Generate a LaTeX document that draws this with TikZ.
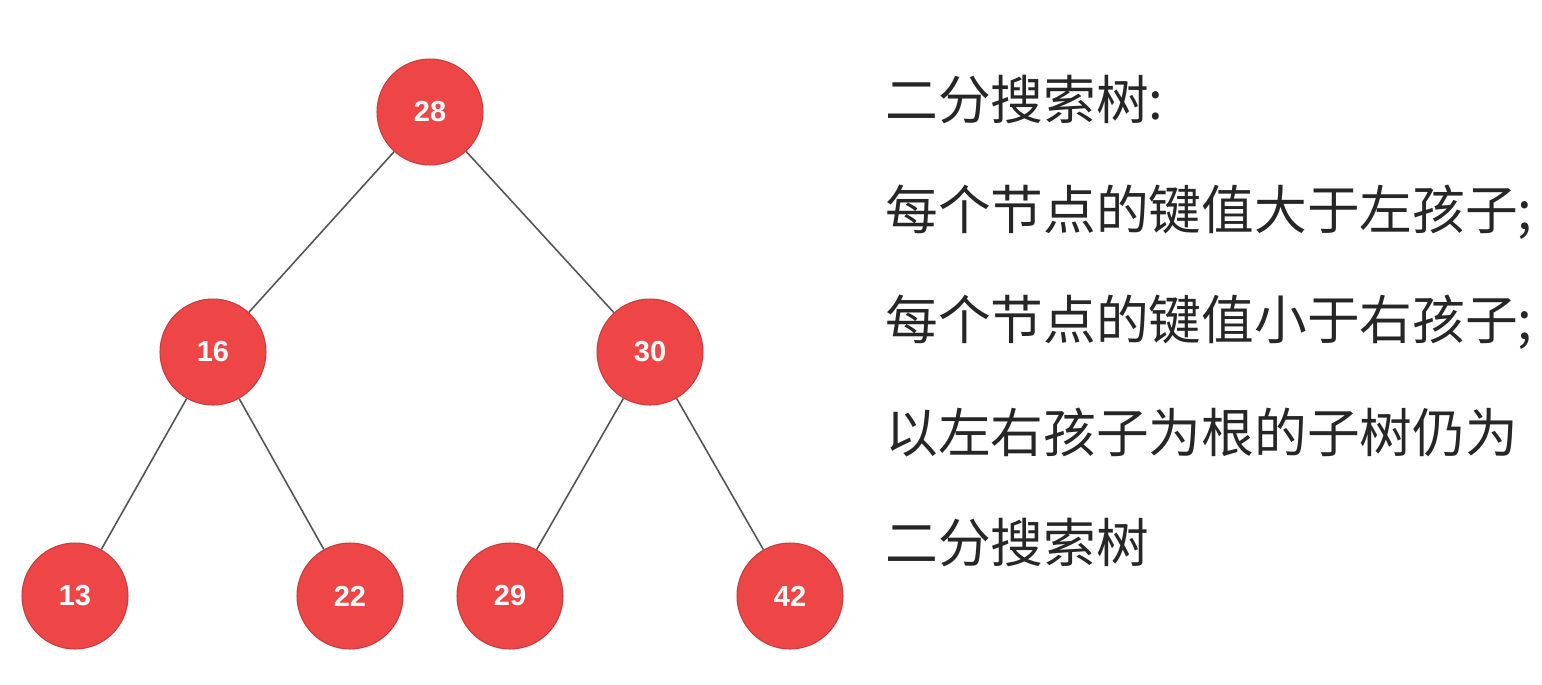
\documentclass[tikz,border=0pt]{standalone}
\usepackage{fontspec}
\setmainfont{Liberation Sans}
\newfontfamily\cjk{Noto Sans CJK SC}
\definecolor{nodered}{HTML}{EE4646}
\definecolor{edgegray}{HTML}{555555}
\begin{document}
\begin{tikzpicture}[x=0.02cm,y=-0.02cm,
  bst/.style={circle,fill=nodered,draw=nodered!85!black,line width=0.6pt,minimum size=2.12cm,inner sep=0pt,text=white,font=\fontsize{16.5}{16.5}\selectfont\bfseries},
  edge/.style={draw=edgegray,line width=0.9pt},
  desc/.style={anchor=west,inner sep=0pt,font=\cjk\fontsize{30}{31}\selectfont,text=black!85}]
\useasboundingbox[fill=white] (0,0) rectangle (1542,684);
\node[bst] (n28) at (430,112) {28};
\node[bst] (n16) at (213,352) {16};
\node[bst] (n30) at (650,352) {30};
\node[bst] (n13) at (75,596) {13};
\node[bst] (n22) at (350,596) {22};
\node[bst] (n29) at (510,596) {29};
\node[bst] (n42) at (790,596) {42};
\draw[edge] (n28) -- (n16);
\draw[edge] (n28) -- (n30);
\draw[edge] (n16) -- (n13);
\draw[edge] (n16) -- (n22);
\draw[edge] (n30) -- (n29);
\draw[edge] (n30) -- (n42);
\node[desc] (t1) at (885,100) {二分搜索树:};
\node[desc] (t2) at (885,212) {每个节点的键值大于左孩子;};
\node[desc] (t3) at (885,322) {每个节点的键值小于右孩子;};
\node[desc] (t4) at (885,432) {以左右孩子为根的子树仍为};
\node[desc] (t5) at (885,543) {二分搜索树};
\end{tikzpicture}
\end{document}
